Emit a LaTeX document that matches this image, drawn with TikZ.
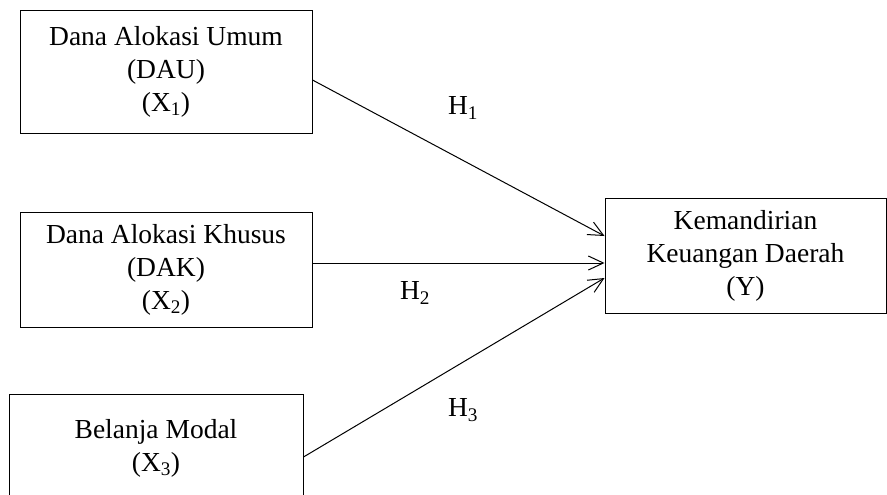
\documentclass[tikz,border=0pt]{standalone}
\usepackage{fontspec}
\setmainfont{Liberation Serif}
\usetikzlibrary{arrows.meta}
\begin{document}
\begin{tikzpicture}[x=1pt,y=-1pt,
  box/.style={draw, line width=1pt, align=center, inner sep=0pt,
    font=\fontsize{27.5}{33}\selectfont},
  lbl/.style={font=\fontsize{27.5}{33}\selectfont, inner sep=0pt},
  arr/.style={line width=1pt, -{Straight Barb[length=15pt,width=14pt,line width=1pt]}}]
\useasboundingbox (0,0) rectangle (887,495);
\node[box, minimum width=292pt, minimum height=122pt] (b1) at (166,72)
  {Dana Alokasi Umum\\(DAU)\\(X\textsubscript{1})};
\node[box, minimum width=292pt, minimum height=115pt] (b2) at (166,269.5)
  {Dana Alokasi Khusus\\(DAK)\\(X\textsubscript{2})};
\node[box, minimum width=294pt, minimum height=108pt] (b3) at (156,448)
  {Belanja Modal\\(X\textsubscript{3})};
\node[box, minimum width=281pt, minimum height=115pt] (y) at (745.5,255.5)
  {Kemandirian\\Keuangan Daerah\\(Y)};
\draw[arr] ([yshift=-8pt]b1.east) -- ([yshift=19.5pt]y.west);
\draw[arr] ([yshift=6.5pt]b2.east) -- ([yshift=-7.5pt]y.west);
\draw[arr] ([yshift=-9pt]b3.east) -- ([yshift=-22.5pt]y.west);
\node[lbl] (h1) at (463,108) {H\textsubscript{1}};
\node[lbl] (h2) at (415,293) {H\textsubscript{2}};
\node[lbl] (h3) at (463,410) {H\textsubscript{3}};
\end{tikzpicture}
\end{document}
